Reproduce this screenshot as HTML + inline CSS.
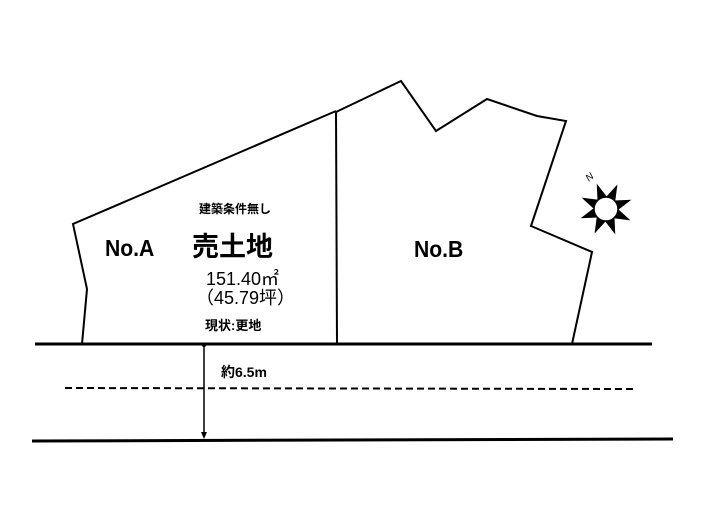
<!DOCTYPE html>
<html><head><meta charset="utf-8"><style>
html,body{margin:0;padding:0;background:#fff;}
body{width:705px;height:525px;overflow:hidden;}
text{font-family:"Liberation Sans","Noto Sans CJK JP",sans-serif;font-weight:bold;fill:#000;}
text.n{font-weight:normal;}
</style></head><body>
<svg width="705" height="525" viewBox="0 0 705 525" xmlns="http://www.w3.org/2000/svg">
<g fill="none" stroke="#000" stroke-width="2" stroke-linejoin="miter">
<polyline points="82,344 87,289 73,224 336,111"/>
<line x1="336" y1="111" x2="337" y2="344"/>
<polyline points="336,112 401,81 436,131 487,99 537,116 566,121 531,226 592,252 572,344"/>
</g>
<line x1="35" y1="344" x2="652" y2="344" stroke="#000" stroke-width="3"/>
<line x1="32" y1="441" x2="673" y2="439" stroke="#000" stroke-width="3"/>
<line x1="65" y1="388" x2="633" y2="389" stroke="#000" stroke-width="2" stroke-dasharray="7,4"/>
<line x1="204" y1="345" x2="204" y2="436" stroke="#000" stroke-width="1.5"/>
<polygon points="201,432 207,432 204,439" fill="#000"/>
<circle cx="204" cy="345" r="2" fill="#000"/>
<g transform="translate(606,209)">
<g fill="#000">
<polygon points="-6,-8 6,-8 0,-27" transform="rotate(-20)"/>
<polygon points="-6,-8 6,-8 0,-27" transform="rotate(25)"/>
<polygon points="-6,-8 6,-8 0,-27" transform="rotate(70)"/>
<polygon points="-6,-8 6,-8 0,-27" transform="rotate(115)"/>
<polygon points="-6,-8 6,-8 0,-27" transform="rotate(160)"/>
<polygon points="-6,-8 6,-8 0,-27" transform="rotate(205)"/>
<polygon points="-6,-8 6,-8 0,-27" transform="rotate(250)"/>
<polygon points="-6,-8 6,-8 0,-27" transform="rotate(295)"/>
</g>
<circle cx="0" cy="0" r="12" fill="#fff" stroke="#000" stroke-width="1.5"/>
</g>
<text class="n" x="586" y="180" font-size="10" font-style="italic" transform="rotate(-40 590 177)">N</text>
<text x="199" y="213" font-size="12">建築条件無し</text>
<text x="105" y="256" font-size="23" transform="scale(0.92 1)" transform-origin="105 256">No.A</text>
<text x="192" y="256" font-size="27">売土地</text>
<text class="n" x="206" y="285" font-size="18">151.40㎡</text>
<text class="n" x="196" y="304" font-size="18">（45.79坪）</text>
<text x="205" y="330" font-size="13">現状:更地</text>
<text x="414" y="257" font-size="23" transform="scale(0.92 1)" transform-origin="414 257">No.B</text>
<text x="221" y="377" font-size="14">約6.5m</text>
</svg>
</body></html>
